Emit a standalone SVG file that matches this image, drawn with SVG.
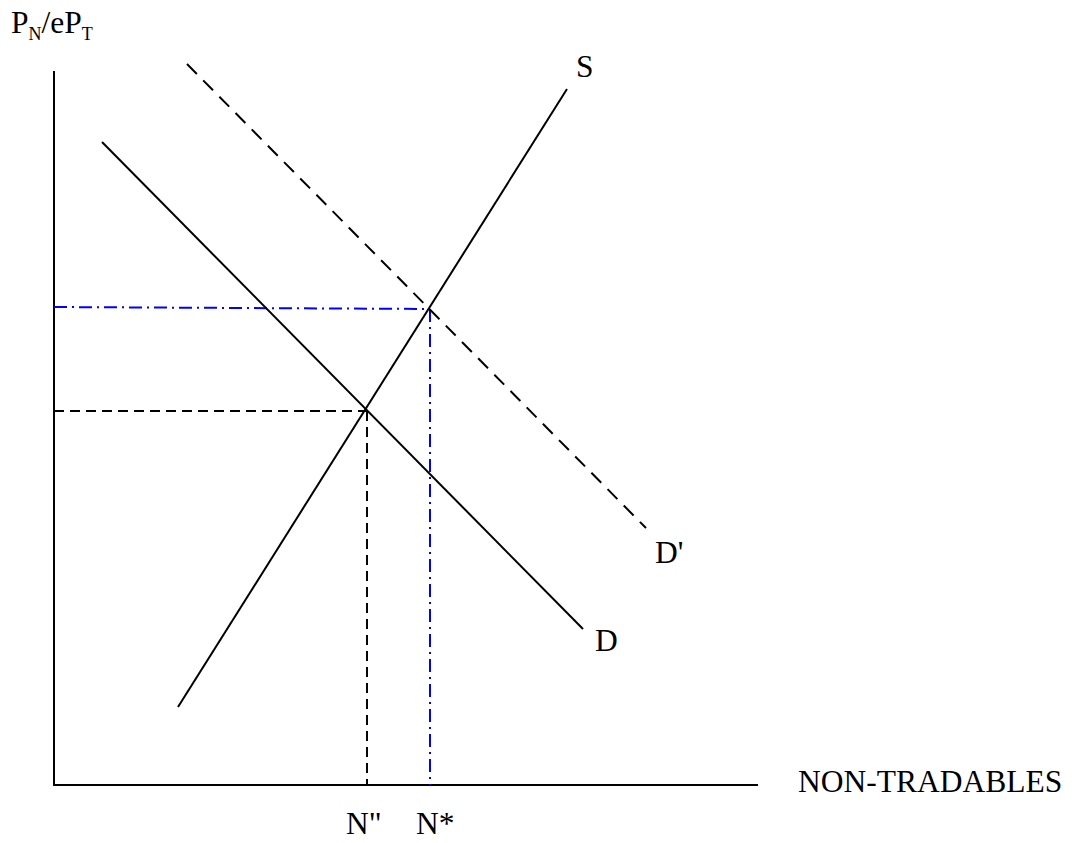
<svg xmlns="http://www.w3.org/2000/svg" width="1075" height="843" viewBox="0 0 1075 843">
<style>
.ln{stroke:#000;stroke-width:2;fill:none}
.dsh{stroke:#000;stroke-width:2;fill:none;stroke-dasharray:14 9}
.dsh2{stroke:#000;stroke-width:2;fill:none;stroke-dasharray:10 6}
.blu{stroke:#0000ff;stroke-width:2;fill:none;stroke-dasharray:13 5 2 5}
text{font-family:"Liberation Serif","Times New Roman",serif;font-size:31.5px;fill:#000}
.sub{font-size:18px}
</style>
<rect width="1075" height="843" fill="#fff"/>
<g id="axes">
<line class="ln" x1="54" y1="71" x2="54" y2="786"/>
<line class="ln" x1="53" y1="785" x2="758" y2="785"/>
</g>
<g id="connectors">
<line class="blu" x1="54" y1="307" x2="430" y2="309"/>
<line class="blu" x1="430" y1="309" x2="430" y2="785"/>
<line class="dsh2" x1="54" y1="411" x2="366" y2="411"/>
<line class="dsh2" x1="367" y1="411" x2="367" y2="785"/>
</g>
<g id="curve-S"><line class="ln" x1="178" y1="707" x2="567" y2="89"/></g>
<g id="curve-D"><line class="ln" x1="102" y1="142" x2="583" y2="629"/></g>
<g id="curve-Dprime"><line class="dsh" x1="187" y1="64" x2="646" y2="528"/></g>
<g id="labels">
<text x="11" y="33">P<tspan class="sub" dy="7">N</tspan><tspan dy="-7">/eP</tspan><tspan class="sub" dy="7">T</tspan></text>
<text x="576" y="77">S</text>
<text x="655" y="563">D'</text>
<text x="595" y="651">D</text>
<text x="798" y="792">NON-TRADABLES</text>
<text x="346" y="834">N"</text>
<text x="416" y="834">N*</text>
</g>
</svg>
